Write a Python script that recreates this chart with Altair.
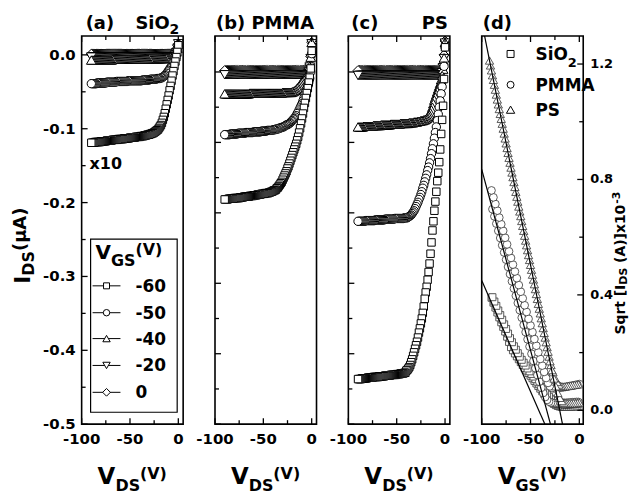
import altair as alt
import pandas as pd

FONT = "DejaVu Sans"
PW, PH = 102, 390

# ---------------- output curves I_DS vs V_DS (uA), V_DS = -90 ... 0 V, 1 V step ----------------
X_VDS = list(range(-90, 1))
GATES = ["0", "-20", "-40", "-50", "-60"]
SHAPE = {"-60": "square", "-50": "circle", "-40": "triangle-up", "-20": "triangle-down", "0": "diamond"}
MSIZE = {"-60": 56, "-50": 70, "-40": 95, "-20": 95, "0": 100}

# (a) SiO2 (values x10)
A_0 = [0.001,0.001,0.001,0.001,0.001,0.001,0.001,0.001,0.001,0.001,
       0.001,0.001,0.001,0.001,0.001,0.001,0.001,0.001,0.001,0.001,
       0.001,0.001,0.001,0.001,0.001,0.001,0.001,0.001,0.001,0.001,
       0.001,0.001,0.001,0.001,0.001,0.001,0.001,0.001,0.001,0.001,
       0.001,0.001,0.001,0.001,0.001,0.001,0.001,0.001,0.001,0.001,
       0.001,0.001,0.001,0.001,0.001,0.001,0.001,0.001,0.001,0.001,
       0.001,0.001,0.001,0.001,0.001,0.001,0.001,0.001,0.001,0.001,
       0.001,0.001,0.001,0.001,0.001,0.001,0.001,0.001,0.001,0.001,
       0.001,0.001,0.001,0.001,0.001,0.001,0.001,0.003,0.005,0.009,
       0.015]
A_M20 = [-0.003,-0.003,-0.003,-0.003,-0.003,-0.003,-0.003,-0.003,-0.003,-0.003,
         -0.003,-0.003,-0.003,-0.003,-0.003,-0.003,-0.003,-0.003,-0.003,-0.003,
         -0.003,-0.003,-0.003,-0.003,-0.003,-0.003,-0.003,-0.003,-0.003,-0.003,
         -0.003,-0.003,-0.003,-0.003,-0.003,-0.003,-0.003,-0.003,-0.003,-0.003,
         -0.003,-0.003,-0.003,-0.003,-0.003,-0.003,-0.003,-0.003,-0.003,-0.003,
         -0.003,-0.003,-0.003,-0.003,-0.003,-0.003,-0.003,-0.003,-0.003,-0.003,
         -0.003,-0.003,-0.003,-0.003,-0.003,-0.003,-0.003,-0.003,-0.003,-0.003,
         -0.003,-0.003,-0.003,-0.003,-0.003,-0.003,-0.003,-0.003,-0.003,-0.003,
         -0.003,-0.003,-0.003,-0.003,-0.003,-0.003,-0.002,0.000,0.003,0.008,
         0.015]
A_M40 = [-0.007,-0.007,-0.007,-0.007,-0.007,-0.007,-0.007,-0.007,-0.007,-0.007,
         -0.007,-0.007,-0.007,-0.007,-0.007,-0.007,-0.007,-0.007,-0.007,-0.007,
         -0.007,-0.007,-0.006,-0.006,-0.006,-0.006,-0.006,-0.006,-0.006,-0.006,
         -0.006,-0.006,-0.006,-0.006,-0.006,-0.006,-0.006,-0.006,-0.006,-0.006,
         -0.006,-0.006,-0.006,-0.006,-0.006,-0.006,-0.006,-0.006,-0.006,-0.006,
         -0.006,-0.006,-0.006,-0.006,-0.006,-0.006,-0.006,-0.006,-0.006,-0.006,
         -0.005,-0.005,-0.005,-0.005,-0.005,-0.005,-0.005,-0.005,-0.005,-0.005,
         -0.005,-0.005,-0.005,-0.005,-0.005,-0.005,-0.005,-0.004,-0.004,-0.004,
         -0.004,-0.004,-0.003,-0.003,-0.002,-0.002,-0.001,0.001,0.004,0.009,
         0.016]
A_M50 = [-0.039,-0.039,-0.039,-0.039,-0.039,-0.039,-0.038,-0.038,-0.038,-0.038,
         -0.038,-0.038,-0.038,-0.038,-0.038,-0.038,-0.037,-0.037,-0.037,-0.037,
         -0.037,-0.037,-0.037,-0.037,-0.037,-0.037,-0.036,-0.036,-0.036,-0.036,
         -0.036,-0.036,-0.036,-0.036,-0.036,-0.036,-0.036,-0.036,-0.035,-0.035,
         -0.035,-0.035,-0.035,-0.035,-0.035,-0.035,-0.035,-0.035,-0.035,-0.035,
         -0.035,-0.035,-0.035,-0.034,-0.034,-0.034,-0.034,-0.034,-0.034,-0.034,
         -0.034,-0.033,-0.033,-0.033,-0.033,-0.033,-0.033,-0.033,-0.032,-0.032,
         -0.032,-0.032,-0.031,-0.031,-0.030,-0.029,-0.028,-0.027,-0.025,-0.023,
         -0.021,-0.019,-0.017,-0.015,-0.012,-0.010,-0.007,-0.004,0.000,0.006,
         0.014]
A_M60 = [-0.119,-0.119,-0.119,-0.119,-0.118,-0.118,-0.118,-0.118,-0.118,-0.118,
         -0.117,-0.117,-0.117,-0.117,-0.117,-0.117,-0.116,-0.116,-0.116,-0.116,
         -0.116,-0.116,-0.115,-0.115,-0.115,-0.115,-0.115,-0.115,-0.114,-0.114,
         -0.114,-0.114,-0.114,-0.114,-0.113,-0.113,-0.113,-0.113,-0.113,-0.113,
         -0.112,-0.112,-0.112,-0.112,-0.112,-0.112,-0.111,-0.111,-0.111,-0.111,
         -0.111,-0.110,-0.110,-0.110,-0.110,-0.109,-0.109,-0.109,-0.108,-0.108,
         -0.108,-0.107,-0.107,-0.106,-0.106,-0.105,-0.104,-0.103,-0.102,-0.101,
         -0.099,-0.097,-0.095,-0.092,-0.088,-0.084,-0.079,-0.073,-0.067,-0.061,
         -0.055,-0.048,-0.042,-0.035,-0.028,-0.022,-0.015,-0.009,-0.003,0.004,
         0.013]

# (b) PMMA
B_0 = [0.002,0.002,0.002,0.002,0.002,0.002,0.002,0.002,0.002,0.002,
       0.002,0.002,0.002,0.002,0.002,0.002,0.002,0.002,0.002,0.002,
       0.002,0.002,0.002,0.002,0.002,0.002,0.002,0.002,0.002,0.002,
       0.002,0.002,0.002,0.002,0.002,0.002,0.002,0.002,0.002,0.002,
       0.002,0.002,0.002,0.002,0.002,0.002,0.002,0.002,0.002,0.002,
       0.002,0.002,0.002,0.002,0.002,0.002,0.002,0.002,0.002,0.002,
       0.002,0.002,0.002,0.002,0.002,0.002,0.002,0.002,0.002,0.002,
       0.002,0.002,0.002,0.002,0.002,0.002,0.002,0.002,0.002,0.002,
       0.002,0.002,0.002,0.002,0.002,0.002,0.002,0.004,0.010,0.022,
       0.042]
B_M20 = [-0.004,-0.004,-0.004,-0.004,-0.004,-0.004,-0.004,-0.004,-0.004,-0.004,
         -0.004,-0.004,-0.004,-0.004,-0.004,-0.004,-0.004,-0.004,-0.004,-0.004,
         -0.004,-0.004,-0.004,-0.004,-0.004,-0.004,-0.004,-0.004,-0.004,-0.004,
         -0.004,-0.004,-0.004,-0.004,-0.004,-0.004,-0.004,-0.004,-0.004,-0.004,
         -0.004,-0.004,-0.004,-0.004,-0.004,-0.004,-0.004,-0.004,-0.004,-0.004,
         -0.004,-0.004,-0.004,-0.004,-0.004,-0.004,-0.004,-0.004,-0.004,-0.004,
         -0.004,-0.004,-0.004,-0.004,-0.004,-0.004,-0.004,-0.004,-0.004,-0.004,
         -0.004,-0.004,-0.004,-0.004,-0.004,-0.004,-0.004,-0.004,-0.004,-0.004,
         -0.004,-0.004,-0.004,-0.004,-0.004,-0.004,-0.003,0.000,0.007,0.019,
         0.040]
B_M40 = [-0.031,-0.031,-0.031,-0.031,-0.031,-0.031,-0.031,-0.031,-0.031,-0.031,
         -0.031,-0.031,-0.031,-0.031,-0.031,-0.031,-0.031,-0.031,-0.031,-0.031,
         -0.031,-0.031,-0.031,-0.031,-0.031,-0.031,-0.030,-0.030,-0.030,-0.030,
         -0.030,-0.030,-0.030,-0.030,-0.030,-0.030,-0.030,-0.030,-0.030,-0.030,
         -0.030,-0.030,-0.030,-0.030,-0.030,-0.030,-0.030,-0.030,-0.030,-0.030,
         -0.030,-0.030,-0.030,-0.030,-0.030,-0.030,-0.030,-0.030,-0.030,-0.030,
         -0.029,-0.029,-0.029,-0.029,-0.029,-0.029,-0.029,-0.029,-0.029,-0.029,
         -0.028,-0.028,-0.027,-0.026,-0.025,-0.023,-0.022,-0.020,-0.018,-0.016,
         -0.014,-0.013,-0.011,-0.009,-0.007,-0.005,-0.003,0.000,0.008,0.021,
         0.042]
B_M50 = [-0.089,-0.089,-0.089,-0.089,-0.089,-0.089,-0.088,-0.088,-0.088,-0.088,
         -0.088,-0.088,-0.088,-0.088,-0.087,-0.087,-0.087,-0.087,-0.087,-0.087,
         -0.087,-0.087,-0.086,-0.086,-0.086,-0.086,-0.086,-0.086,-0.086,-0.086,
         -0.085,-0.085,-0.085,-0.085,-0.085,-0.085,-0.085,-0.085,-0.084,-0.084,
         -0.084,-0.084,-0.084,-0.084,-0.083,-0.083,-0.083,-0.083,-0.083,-0.083,
         -0.082,-0.082,-0.082,-0.081,-0.081,-0.081,-0.080,-0.080,-0.079,-0.079,
         -0.078,-0.078,-0.077,-0.076,-0.075,-0.075,-0.074,-0.073,-0.072,-0.070,
         -0.069,-0.067,-0.066,-0.064,-0.062,-0.059,-0.057,-0.054,-0.051,-0.048,
         -0.045,-0.041,-0.037,-0.033,-0.028,-0.024,-0.020,-0.015,-0.009,0.000,
         0.026]
B_M60 = [-0.181,-0.181,-0.181,-0.181,-0.180,-0.180,-0.180,-0.180,-0.180,-0.180,
         -0.179,-0.179,-0.179,-0.179,-0.179,-0.179,-0.178,-0.178,-0.178,-0.178,
         -0.177,-0.177,-0.177,-0.177,-0.177,-0.177,-0.176,-0.176,-0.176,-0.176,
         -0.175,-0.175,-0.175,-0.175,-0.174,-0.174,-0.174,-0.174,-0.173,-0.173,
         -0.173,-0.173,-0.172,-0.172,-0.172,-0.172,-0.171,-0.171,-0.170,-0.170,
         -0.169,-0.168,-0.168,-0.167,-0.165,-0.164,-0.162,-0.160,-0.158,-0.156,
         -0.153,-0.150,-0.147,-0.144,-0.141,-0.137,-0.134,-0.130,-0.126,-0.122,
         -0.118,-0.114,-0.110,-0.106,-0.102,-0.097,-0.092,-0.086,-0.080,-0.073,
         -0.066,-0.059,-0.051,-0.044,-0.037,-0.030,-0.023,-0.015,-0.008,0.005,
         0.030]

# (c) PS
C_0 = [0.002,0.002,0.002,0.002,0.002,0.002,0.002,0.002,0.002,0.002,
       0.002,0.002,0.002,0.002,0.002,0.002,0.002,0.002,0.002,0.002,
       0.002,0.002,0.002,0.002,0.002,0.002,0.002,0.002,0.002,0.002,
       0.002,0.002,0.002,0.002,0.002,0.002,0.002,0.002,0.002,0.002,
       0.002,0.002,0.002,0.002,0.002,0.002,0.002,0.002,0.002,0.002,
       0.002,0.002,0.002,0.002,0.002,0.002,0.002,0.002,0.002,0.002,
       0.002,0.002,0.002,0.002,0.002,0.002,0.002,0.002,0.002,0.002,
       0.002,0.002,0.002,0.002,0.002,0.002,0.002,0.002,0.002,0.002,
       0.002,0.002,0.002,0.002,0.002,0.002,0.002,0.004,0.011,0.024,
       0.044]
C_M20 = [-0.005,-0.005,-0.005,-0.005,-0.005,-0.005,-0.005,-0.005,-0.005,-0.005,
         -0.005,-0.005,-0.005,-0.005,-0.005,-0.005,-0.005,-0.005,-0.005,-0.005,
         -0.005,-0.005,-0.005,-0.005,-0.005,-0.005,-0.005,-0.005,-0.005,-0.005,
         -0.005,-0.005,-0.005,-0.005,-0.005,-0.005,-0.005,-0.005,-0.005,-0.005,
         -0.005,-0.005,-0.005,-0.005,-0.005,-0.005,-0.005,-0.005,-0.005,-0.005,
         -0.005,-0.005,-0.005,-0.005,-0.005,-0.005,-0.005,-0.005,-0.005,-0.005,
         -0.005,-0.005,-0.005,-0.005,-0.005,-0.005,-0.005,-0.005,-0.005,-0.005,
         -0.005,-0.005,-0.005,-0.005,-0.005,-0.005,-0.005,-0.005,-0.005,-0.005,
         -0.005,-0.005,-0.005,-0.005,-0.005,-0.005,-0.004,-0.001,0.006,0.019,
         0.041]
C_M40 = [-0.078,-0.078,-0.078,-0.078,-0.078,-0.078,-0.077,-0.077,-0.077,-0.077,
         -0.077,-0.077,-0.077,-0.077,-0.077,-0.077,-0.076,-0.076,-0.076,-0.076,
         -0.076,-0.076,-0.076,-0.076,-0.075,-0.075,-0.075,-0.075,-0.075,-0.075,
         -0.075,-0.075,-0.075,-0.075,-0.074,-0.074,-0.074,-0.074,-0.074,-0.074,
         -0.074,-0.074,-0.074,-0.074,-0.073,-0.073,-0.073,-0.073,-0.073,-0.073,
         -0.073,-0.073,-0.073,-0.072,-0.072,-0.072,-0.072,-0.072,-0.071,-0.071,
         -0.071,-0.071,-0.070,-0.070,-0.070,-0.069,-0.069,-0.069,-0.068,-0.068,
         -0.067,-0.066,-0.065,-0.063,-0.061,-0.058,-0.054,-0.050,-0.045,-0.040,
         -0.036,-0.032,-0.028,-0.024,-0.020,-0.016,-0.011,-0.005,0.004,0.020,
         0.042]
C_M50 = [-0.212,-0.212,-0.212,-0.212,-0.212,-0.212,-0.212,-0.212,-0.211,-0.211,
         -0.211,-0.211,-0.211,-0.211,-0.211,-0.211,-0.211,-0.211,-0.210,-0.210,
         -0.210,-0.210,-0.210,-0.210,-0.210,-0.210,-0.210,-0.210,-0.209,-0.209,
         -0.209,-0.209,-0.209,-0.209,-0.209,-0.209,-0.209,-0.209,-0.208,-0.208,
         -0.208,-0.208,-0.208,-0.208,-0.208,-0.208,-0.208,-0.208,-0.207,-0.207,
         -0.207,-0.207,-0.206,-0.205,-0.204,-0.203,-0.201,-0.199,-0.197,-0.194,
         -0.191,-0.188,-0.185,-0.181,-0.178,-0.174,-0.170,-0.165,-0.161,-0.156,
         -0.151,-0.146,-0.140,-0.135,-0.129,-0.123,-0.116,-0.109,-0.102,-0.094,
         -0.086,-0.078,-0.069,-0.060,-0.050,-0.041,-0.031,-0.021,-0.010,0.008,
         0.035]
C_M60 = [-0.436,-0.436,-0.436,-0.436,-0.435,-0.435,-0.435,-0.435,-0.435,-0.435,
         -0.434,-0.434,-0.434,-0.434,-0.434,-0.434,-0.433,-0.433,-0.433,-0.433,
         -0.433,-0.433,-0.432,-0.432,-0.432,-0.432,-0.432,-0.432,-0.431,-0.431,
         -0.431,-0.431,-0.431,-0.431,-0.430,-0.430,-0.430,-0.430,-0.430,-0.430,
         -0.429,-0.429,-0.429,-0.429,-0.428,-0.428,-0.428,-0.428,-0.427,-0.427,
         -0.424,-0.423,-0.421,-0.419,-0.416,-0.412,-0.408,-0.403,-0.398,-0.393,
         -0.388,-0.383,-0.377,-0.370,-0.364,-0.357,-0.350,-0.342,-0.333,-0.322,
         -0.313,-0.305,-0.295,-0.284,-0.272,-0.258,-0.242,-0.225,-0.212,-0.197,
         -0.184,-0.170,-0.155,-0.143,-0.128,-0.110,-0.088,-0.068,-0.048,-0.010,
         0.035]

PANEL_A = {"0": A_0, "-20": A_M20, "-40": A_M40, "-50": A_M50, "-60": A_M60}
PANEL_B = {"0": B_0, "-20": B_M20, "-40": B_M40, "-50": B_M50, "-60": B_M60}
PANEL_C = {"0": C_0, "-20": C_M20, "-40": C_M40, "-50": C_M50, "-60": C_M60}

# ---------------- transfer curves sqrt(I_DS) (x1e-3 sqrt(A)) vs V_GS ----------------
X_VGS_E = list(range(-92, 1, 2))     # forward sweep points
X_VGS_O = list(range(-91, 0, 2))     # reverse sweep points
D_SQ1 = [None,0.390,0.373,0.356,0.339,0.322,0.305,0.289,0.273,0.255,0.237,0.219,0.208,0.197,0.187,0.177,0.167,0.157,0.147,0.138,0.129,0.120,0.111,0.102,0.093,0.084,
         0.075,0.066,0.057,0.048,0.040,0.033,0.027,0.022,0.018,0.015,0.013,0.012,0.012,0.012,0.012,0.012,0.013,0.013,0.013,0.014,0.014]
D_CI1 = [None,0.762,0.738,0.715,0.692,0.668,0.645,0.622,0.598,0.575,0.551,0.528,0.505,0.481,0.458,0.434,0.411,0.388,0.364,0.341,0.317,0.294,0.271,0.247,0.224,0.201,
         0.178,0.155,0.133,0.112,0.095,0.083,0.077,0.076,0.076,0.077,0.078,0.079,0.080,0.081,0.082,0.084,0.085,0.086,0.088,0.089,0.091]
D_TR1 = [1.212,1.178,1.145,1.111,1.077,1.044,1.010,0.976,0.942,0.909,0.875,0.841,0.808,0.774,0.740,0.706,0.673,0.639,0.605,0.572,0.538,0.504,0.470,0.437,0.403,0.369,
         0.336,0.302,0.268,0.236,0.203,0.170,0.139,0.110,0.083,0.060,0.043,0.032,0.027,0.025,0.024,0.024,0.024,0.025,0.025,0.026,0.027]
D_SQ2 = [None,0.392,0.377,0.362,0.346,0.330,0.314,0.298,0.282,0.266,
         0.250,0.236,0.222,0.210,0.198,0.186,0.175,0.165,0.155,0.145,
         0.135,0.126,0.117,0.108,0.099,0.090,0.081,0.072,0.063,0.055,
         0.047,0.040,0.033,0.028,0.024,0.022,0.021,0.020,0.020,0.020,
         0.020,0.021,0.021,0.022,0.022,0.023]
D_CI2 = [None,0.697,0.672,0.647,0.622,0.597,0.572,0.547,0.522,0.497,
         0.472,0.447,0.422,0.397,0.372,0.347,0.321,0.296,0.271,0.246,
         0.221,0.196,0.171,0.146,0.122,0.099,0.078,0.060,0.046,0.036,
         0.030,0.027,0.026,0.025,0.025,0.025,0.025,0.026,0.026,0.026,
         0.027,0.027,0.028,0.028,0.029,0.029]
D_TR2 = [1.195,1.161,1.128,1.094,1.060,1.027,0.993,0.959,0.925,0.892,
         0.858,0.824,0.791,0.757,0.723,0.689,0.656,0.622,0.588,0.555,
         0.521,0.487,0.453,0.420,0.386,0.352,0.319,0.285,0.252,0.219,
         0.186,0.157,0.132,0.112,0.098,0.089,0.085,0.083,0.083,0.084,
         0.085,0.086,0.087,0.088,0.089,0.090]

# straight-line fits (end points)
FIT_NAME = ["SiO2", "SiO2", "PMMA", "PMMA", "PS", "PS"]
FIT_X = [-100, -30, -100, -20, -100, -10]
FIT_Y = [0.450, -0.089, 0.835, -0.168, 1.347, -0.170]

for arr in list(PANEL_A.values()) + list(PANEL_B.values()) + list(PANEL_C.values()):
    assert len(arr) == len(X_VDS), len(arr)
for arr in (D_SQ1, D_CI1, D_TR1):
    assert len(arr) == len(X_VGS_E), len(arr)
for arr in (D_SQ2, D_CI2, D_TR2):
    assert len(arr) == len(X_VGS_O), len(arr)

# ticks and tick labels
X_MAJOR = [-100, -50, 0]
X_LABELS = ["-100", "-50", "0"]
X_MINOR = [-75, -25]
Y_MAJOR = [0.0, -0.1, -0.2, -0.3, -0.4, -0.5]
Y_LABELS = ["0.0", "-0.1", "-0.2", "-0.3", "-0.4", "-0.5"]
Y_MINOR = [-0.05, -0.15, -0.25, -0.35, -0.45]
YD_MAJOR = [0.0, 0.4, 0.8, 1.2]
YD_LABELS = ["0.0", "0.4", "0.8", "1.2"]
YD_MINOR = [0.2, 0.6, 1.0]

ONE = pd.DataFrame({"k": [0]})
TXT = dict(font=FONT, fontWeight="bold", color="black")


def txt(s, x, y, size, align="left", angle=0):
    return alt.Chart(ONE).mark_text(text=s, align=align, baseline="alphabetic", angle=angle,
                                    fontSize=size, **TXT).encode(x=alt.value(x), y=alt.value(y))


def tick_layers(xs, ys, ymaj, ymin, side):
    out = []
    for vals, L in ((X_MAJOR, 6), (X_MINOR, 4)):
        d = pd.DataFrame({"t": vals})
        for y1, y2 in ((PH, PH - L), (0, L)):
            out.append(alt.Chart(d).mark_rule(color="black", strokeWidth=1.3).encode(
                x=alt.X("t:Q", scale=xs, axis=None), y=alt.value(y1), y2=alt.value(y2)))
    for vals, L in ((ymaj, 6), (ymin, 4)):
        d = pd.DataFrame({"t": vals})
        x1, x2 = (0, L) if side == "left" else (PW, PW - L)
        out.append(alt.Chart(d).mark_rule(color="black", strokeWidth=1.3).encode(
            y=alt.Y("t:Q", scale=ys, axis=None), x=alt.value(x1), x2=alt.value(x2)))
    # x tick labels
    out.append(alt.Chart(pd.DataFrame({"t": X_MAJOR, "lab": X_LABELS})).mark_text(
        fontSize=15, baseline="top", align="center", **TXT).encode(
        x=alt.X("t:Q", scale=xs, axis=None), y=alt.value(PH + 8), text="lab:N"))
    return out


def ylabels(ys, vals, labs, side):
    d = pd.DataFrame({"t": vals, "lab": labs})
    if side == "left":
        mk = alt.Chart(d).mark_text(fontSize=15, baseline="middle", align="right", **TXT)
        xv = alt.value(-6)
    else:
        mk = alt.Chart(d).mark_text(fontSize=13, baseline="middle", align="left", **TXT)
        xv = alt.value(PW + 7)
    return mk.encode(y=alt.Y("t:Q", scale=ys, axis=None), x=xv, text="lab:N")


def xtitle(sub):
    return [txt("V", 16, PH + 60, 23), txt(sub, 34, PH + 67, 16), txt("(V)", 58.6, PH + 55, 16)]


def ids_panel(curves, ydom, extra, with_ylabels=False):
    xs = alt.Scale(domain=[-100, 5], nice=False, zero=False)
    ys = alt.Scale(domain=ydom, nice=False, zero=False)
    layers = []
    for g in GATES:
        df = pd.DataFrame({"vds": X_VDS, "ids": curves[g]}).sort_values("vds", ascending=False)
        layers.append(alt.Chart(df).mark_point(
            shape=SHAPE[g], filled=True, fill="white", stroke="black", strokeWidth=1,
            size=MSIZE[g], opacity=1, clip=True).encode(
            x=alt.X("vds:Q", scale=xs, axis=None),
            y=alt.Y("ids:Q", scale=ys, axis=None)))
    layers += tick_layers(xs, ys, Y_MAJOR, Y_MINOR, "left")
    if with_ylabels:
        layers.append(ylabels(ys, Y_MAJOR, Y_LABELS, "left"))
    layers += xtitle("DS")
    layers += extra
    return alt.layer(*layers).properties(width=PW, height=PH)


# ---- panel (a) extras ----
anchor = alt.Chart(ONE).mark_rule(strokeOpacity=0, strokeWidth=0).encode(
    x=alt.value(-73), x2=alt.value(-72), y=alt.value(-26), y2=alt.value(-25))
extra_a = [anchor,
           txt("(a)", 4, -7, 18), txt("SiO", 54, -7, 18), txt("2", 88.4, -2, 14),
           txt("x10", 8, 134, 16),
           alt.Chart(ONE).mark_rect(fill="white", stroke="black", strokeWidth=1.2).encode(
               x=alt.value(9), x2=alt.value(96), y=alt.value(204), y2=alt.value(378)),
           txt("V", 14, 224, 20), txt("GS", 29.5, 231, 16), txt("(V)", 54, 220, 16)]
LEG_Y = [251, 278, 304, 331, 358]
LEG_SIZE = {"-60": 36, "-50": 42, "-40": 55, "-20": 55, "0": 60}
for g, ly in zip(["-60", "-50", "-40", "-20", "0"], LEG_Y):
    extra_a.append(alt.Chart(ONE).mark_rule(color="black", strokeWidth=1).encode(
        x=alt.value(11), x2=alt.value(39), y=alt.value(ly)))
    extra_a.append(alt.Chart(ONE).mark_point(shape=SHAPE[g], filled=True, fill="white",
                                             stroke="black", strokeWidth=1, size=LEG_SIZE[g],
                                             opacity=1).encode(x=alt.value(25), y=alt.value(ly)))
    extra_a.append(txt(g, 54, ly + 6, 17))
extra_a += [txt("I", -52, 249, 22, angle=270), txt("DS", -48, 240.8, 16, angle=270),
            txt("(μA)", -56, 216, 18, angle=270)]

pa = ids_panel(PANEL_A, [-0.5, 0.0255], extra_a, with_ylabels=True)
pb = ids_panel(PANEL_B, [-0.5, 0.051], [txt("(b) PMMA", 1, -7, 18)])
pc = ids_panel(PANEL_C, [-0.5, 0.051], [txt("(c)", 3, -7, 18), txt("PS", 100, -7, 18, align="right")])

# ---- panel (d) ----
xs_d = alt.Scale(domain=[-100, 4], nice=False, zero=False)
ys_d = alt.Scale(domain=[-0.048, 1.297], nice=False, zero=False)
d_layers = []
D_SERIES = [("square", X_VGS_E, D_SQ1, 49), ("square", X_VGS_O, D_SQ2, 49),
            ("circle", X_VGS_O, D_CI2, 60), ("circle", X_VGS_E, D_CI1, 60),
            ("triangle-up", X_VGS_O, D_TR2, 70), ("triangle-up", X_VGS_E, D_TR1, 70)]
for shp, xv, vals, sz in D_SERIES:
    df = pd.DataFrame({"vgs": xv, "sq": vals}).dropna().sort_values("vgs", ascending=False)
    d_layers.append(alt.Chart(df).mark_point(
        shape=shp, filled=True, fill="white", stroke="#333333", strokeWidth=0.8,
        size=sz, opacity=1, clip=True).encode(
        x=alt.X("vgs:Q", scale=xs_d, axis=None),
        y=alt.Y("sq:Q", scale=ys_d, axis=None)))
fit_df = pd.DataFrame({"name": FIT_NAME, "x": FIT_X, "y": FIT_Y})
d_layers.append(alt.Chart(fit_df).mark_line(color="black", strokeWidth=1.2, clip=True).encode(
    x=alt.X("x:Q", scale=xs_d, axis=None), y=alt.Y("y:Q", scale=ys_d, axis=None),
    detail="name:N"))
d_layers += tick_layers(xs_d, ys_d, YD_MAJOR, YD_MINOR, "right")
d_layers.append(ylabels(ys_d, YD_MAJOR, YD_LABELS, "right"))
d_layers += xtitle("GS")
d_layers += [txt("(d)", 1, -7, 18)]
for shp, ly, sz, lab in (("square", 18, 49, "SiO"), ("circle", 49, 49, "PMMA"), ("triangle-up", 74, 70, "PS")):
    d_layers.append(alt.Chart(ONE).mark_point(shape=shp, filled=True, fill="white", stroke="black",
                                              strokeWidth=1, size=sz, opacity=1).encode(
        x=alt.value(29), y=alt.value(ly)))
    d_layers.append(txt(lab, 54, ly + 6, 17))
d_layers.append(txt("2", 86.5, 31, 13))
# right-hand axis title, read bottom to top (kept inside the page width)
d_layers += [txt("Sqrt [I", 144, 300, 14, angle=270), txt("DS", 146, 249.8, 11, angle=270),
             txt("(A)]x10", 144, 228, 14, angle=270), txt("-3", 138.5, 168.5, 11, angle=270)]
pd_ = alt.layer(*d_layers).properties(width=PW, height=PH)

chart = alt.hconcat(pa, pb, pc, pd_, spacing=32, bounds="flush").properties(
    padding=0, background="white").configure_view(stroke="black", strokeWidth=1.6)

chart.save("out.html", embed_options={"renderer": "svg", "actions": False})
